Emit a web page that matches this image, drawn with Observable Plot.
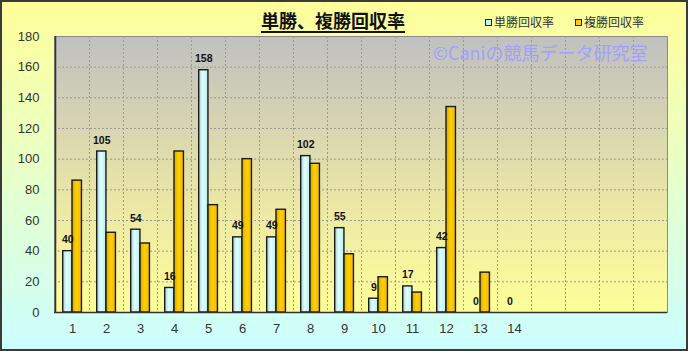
<!DOCTYPE html>
<html>
<head>
<meta charset="utf-8">
<script src="https://cdn.jsdelivr.net/npm/d3@7"></script>
<script src="https://cdn.jsdelivr.net/npm/@observablehq/plot@0.6"></script>
<style>
  html, body { margin: 0; padding: 0; }
  #wrap { position: relative; width: 688px; height: 351px; overflow: hidden;
    background: linear-gradient(to bottom, #ffff99 0%, #eaffc4 45%, #ccffff 100%); }
  #border { position: absolute; left: 0; top: 0; width: 688px; height: 351px; box-sizing: border-box;
    border: 2px solid #3a3a3a; pointer-events: none; }
  #title { position: absolute; left: 0; width: 666px; top: 10px; text-align: center;
    font-family: "Noto Sans CJK JP", sans-serif; font-weight: bold; font-size: 18px; line-height: 20px;
    color: #111; }
  #title span { text-decoration: underline; text-underline-offset: 3px; text-decoration-thickness: 1.5px; }
  .leg { position: absolute; top: 13px; font-family: "Noto Sans CJK JP", sans-serif; font-size: 12px;
    line-height: 18px; color: #333; }
  .leg i { display: inline-block; width: 5px; height: 5px; border: 1px solid #222; margin-right: 2px;
    vertical-align: 1px; }
</style>
</head>
<body>
<div id="wrap">
  <div id="chart"></div>
  <div id="title"><span>単勝、複勝回収率</span></div>
  <div class="leg" style="left:485px"><i style="background:#c4f4f4"></i>単勝回収率</div>
  <div class="leg" style="left:575px"><i style="background:#ffcc00"></i>複勝回収率</div>
  <div id="border"></div>
</div>
<script>
// ---- data ----
const categories = d3.range(1, 19).map(String);          // 18 slots on the x axis
const labeledCats = ["1","2","3","4","5","6","7","8","9","10","11","12","13","14"];
const winReturn   = [40, 105, 54, 16, 158, 49, 49, 102, 55, 9, 17, 42, 0, 0];   // 単勝回収率
const placeReturn = [86, 52, 45, 105, 70, 100, 67, 97, 38, 23, 13, 134, 26, 0]; // 複勝回収率
const yTicks = [0, 20, 40, 60, 80, 100, 120, 140, 160, 180];
const seriesNames = ["単勝回収率", "複勝回収率"];
const watermark = "©Caniの競馬データ研究室";

const rows = labeledCats.map((c, i) => ({cat: c, win: winReturn[i], place: placeReturn[i]}));

const W = 688, H = 351, mL = 54, mR = 21, mT = 36, mB = 39;
const bw = (W - mL - mR) / categories.length;

const chart = Plot.plot({
  width: W, height: H,
  marginLeft: mL, marginRight: mR, marginTop: mT, marginBottom: mB,
  style: {background: "transparent", overflow: "visible"},
  x: {type: "band", domain: categories, padding: 0},
  y: {domain: [0, 180]},
  marks: [
    Plot.frame({fill: "url(#plotBg)", stroke: "#8a8a8a"}),
    Plot.ruleY(yTicks.filter(t => t > 0 && t < 180), {stroke: "#9a9a9a", strokeDasharray: "2,2", strokeWidth: 1}),
    Plot.ruleX(categories.slice(1), {dx: -bw / 2, stroke: "#9a9a9a", strokeDasharray: "2,2", strokeWidth: 1}),
    Plot.barY(rows, {x: "cat", y: "win", fill: "url(#gWin)", stroke: "#1a1a1a", strokeWidth: 1.4,
      insetLeft: 7.7, insetRight: bw - 17}),
    Plot.barY(rows, {x: "cat", y: "place", fill: "url(#gPlace)", stroke: "#1a1a1a", strokeWidth: 1.4,
      insetLeft: 17, insetRight: bw - 26.5}),
    Plot.ruleY([0], {stroke: "#333", strokeWidth: 1.6}),
    Plot.ruleX(["1"], {dx: -bw / 2, stroke: "#333", strokeWidth: 1.6}),
    Plot.text(rows, {x: "cat", y: "win", text: d => String(d.win), dx: -4.7, dy: -8, lineAnchor: "bottom",
      fontSize: 10.5, fontWeight: "bold", fill: "#111", fontFamily: "Liberation Sans, Arial, sans-serif"}),
    Plot.text([watermark], {frameAnchor: "top-right", text: d => d, dx: -20, dy: 18, lineAnchor: "middle",
      textAnchor: "end", fontSize: 18, fill: "#a0a0ff", fontFamily: "Noto Sans CJK JP, sans-serif"}),
    Plot.axisY({ticks: yTicks, tickSize: 0, tickPadding: 15, fontSize: 13, fill: "#333",
      fontFamily: "Liberation Sans, Arial, sans-serif", label: null}),
    Plot.axisX({tickSize: 0, tickPadding: 11, fontSize: 13, fill: "#333",
      tickFormat: d => labeledCats.includes(d) ? d : "",
      fontFamily: "Liberation Sans, Arial, sans-serif", label: null})
  ]
});

// gradients
const ns = "http://www.w3.org/2000/svg";
const defs = document.createElementNS(ns, "defs");
function grad(id, vertical, stops) {
  const g = document.createElementNS(ns, "linearGradient");
  g.setAttribute("id", id);
  g.setAttribute("x1", 0); g.setAttribute("y1", 0);
  g.setAttribute("x2", vertical ? 0 : 1); g.setAttribute("y2", vertical ? 1 : 0);
  for (const [o, c] of stops) {
    const s = document.createElementNS(ns, "stop");
    s.setAttribute("offset", o); s.setAttribute("stop-color", c);
    g.appendChild(s);
  }
  defs.appendChild(g);
}
grad("plotBg", true, [[0, "#c0c0c0"], [0.55, "#e8e4a8"], [1, "#ffff99"]]);
grad("gWin", false, [[0, "#9fd6d6"], [0.45, "#e4ffff"], [1, "#b4ecec"]]);
grad("gPlace", false, [[0, "#d9a400"], [0.45, "#ffd000"], [1, "#f2bc00"]]);
chart.insertBefore(defs, chart.firstChild);

document.getElementById("chart").appendChild(chart);
</script>
</body>
</html>
